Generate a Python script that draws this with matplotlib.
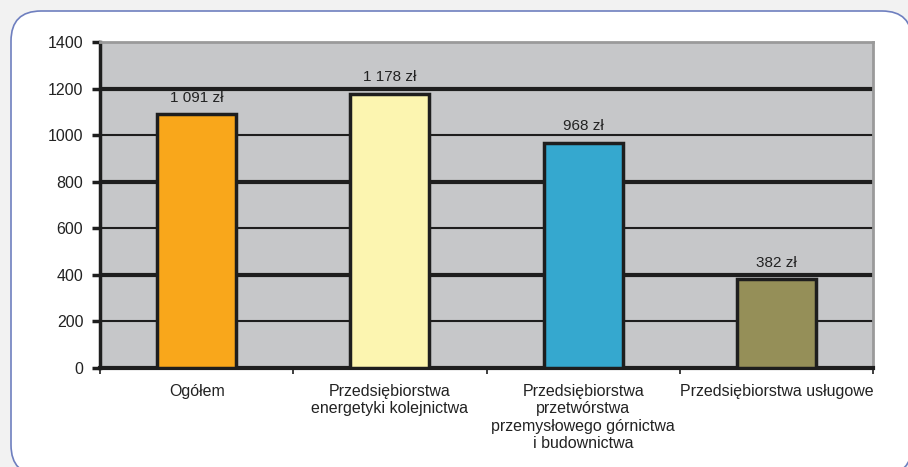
import matplotlib
matplotlib.use("Agg")
import matplotlib.pyplot as plt
from matplotlib.patches import FancyBboxPatch

categories = ["Ogółem",
              "Przedsiębiorstwa\nenergetyki kolejnictwa",
              "Przedsiębiorstwa\nprzetwórstwa\nprzemysłowego górnictwa\ni budownictwa",
              "Przedsiębiorstwa usługowe"]
values = [1091, 1178, 968, 382]
value_labels = ["1 091 zł", "1 178 zł", "968 zł", "382 zł"]
colors = ["#F9A71B", "#FCF5B0", "#35A8CF", "#958F58"]
yticks = [0, 200, 400, 600, 800, 1000, 1200, 1400]

plt.rcParams['font.family'] = ['Liberation Sans', 'DejaVu Sans']

W, H = 908, 467
fig = plt.figure(figsize=(W/100, H/100), dpi=100)
fig.patch.set_facecolor("#F2F2F2")

bg = fig.add_axes([0, 0, 1, 1], zorder=-1)
bg.set_xlim(0, W)
bg.set_ylim(H, 0)
bg.axis("off")
panel = FancyBboxPatch((11, 11), 912 - 11, 475 - 11,
                       boxstyle="round,pad=0,rounding_size=30",
                       facecolor="white", edgecolor="#6E7FBF", linewidth=1.2)
bg.add_patch(panel)

left, right, top, bottom = 100, 873, 42, 368
ax = fig.add_axes([left/W, 1-bottom/H, (right-left)/W, (bottom-top)/H])
ax.set_facecolor("#C6C7C9")
x = list(range(len(categories)))
ax.bar(x, values, width=0.41, color=colors, edgecolor="#1E1E1E", linewidth=2.5, zorder=3)
ax.set_xlim(-0.5, len(categories)-0.5)
ax.set_ylim(0, 1400)
ax.set_yticks(yticks)
ax.set_yticklabels([str(t) for t in yticks], fontsize=11.5, color="#222222")
for t in yticks[1:-1]:
    lw = 3.0 if t % 400 == 0 else 1.5
    ax.axhline(t, color="#1E1E1E", linewidth=lw, zorder=1)
for xi, v, lab in zip(x, values, value_labels):
    ax.text(xi, v + 40, lab, ha="center", va="bottom", fontsize=11, color="#222222")
ax.set_xticks([i + 0.5 for i in range(-1, len(categories))], minor=False)
ax.set_xticklabels([])
ax.tick_params(axis="x", length=4, width=1.2, color="#1E1E1E", direction="out")
ax.tick_params(axis="y", length=6, width=2.5, color="#1E1E1E", pad=6)
for xi, c in zip(x, categories):
    ax.text(xi, -0.05, c, transform=ax.get_xaxis_transform(), ha="center", va="top",
            fontsize=11.5, color="#222222", linespacing=1.18)
for s in ["top", "right"]:
    ax.spines[s].set_color("#9A9A9A")
    ax.spines[s].set_linewidth(2)
ax.spines["left"].set_color("#1E1E1E")
ax.spines["left"].set_linewidth(2.5)
ax.spines["bottom"].set_color("#1E1E1E")
ax.spines["bottom"].set_linewidth(3)

fig.savefig("out.png", dpi=100, facecolor=fig.get_facecolor())
